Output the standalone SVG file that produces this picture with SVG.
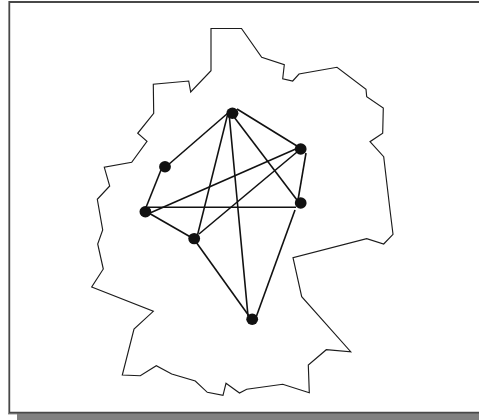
<svg xmlns="http://www.w3.org/2000/svg" width="479" height="420" viewBox="0 0 479 420">
<style>
.o{fill:none;stroke:#1c1c1c;stroke-width:1.15;stroke-linejoin:miter}
.e{stroke:#111;stroke-width:1.6;fill:none}
.n{fill:#111;stroke:none}
</style>
<rect width="479" height="420" fill="#fff"/>
<g id="frame">
<rect x="17" y="413" width="462" height="7" fill="#808080"/>
<rect x="8" y="413" width="9" height="1.5" fill="#999"/>
<path d="M479 2H9.3V412.7H479" fill="none" stroke="#484848" stroke-width="1.8"/>
</g>
<path id="outline" class="o" d="M211 28.5L241.5 28.5L261.7 57.3L284.3 64.7L282.7 78.7L292.7 81L299 74L337 67.3L366 89.3L366.7 96.7L383.3 108L382.7 133.3L370 141.7L383.7 156.7L390 210L393 234.3L383.7 244L366.7 238.7L293 257.7L301.7 296.7L350.7 351.7L326.3 349.7L308.3 365L309.3 392.7L282.7 384.3L246.7 389.3L239.5 393L226 383.3L223 395.3L207.3 392.3L195.3 381L171.7 374L156.3 365.7L140.3 375.7L122.3 375L134 329L153.3 311.3L91.7 287L103.3 269L97.7 244L102.7 230L97.3 199.3L109.7 186L104.3 167.3L131.7 162.3L147 141.3L137.7 133.3L153.7 113.3L153.3 84.3L188.7 81L190.7 92L211 70.7Z"/>
<g id="connectors">
<path class="e" d="M228 113L168 165"/>
<path class="e" d="M161 170L145 210"/>
<path class="e" d="M147 212L194 239"/>
<path class="e" d="M196 242L249 316"/>
<path class="e" d="M256.5 316L295 210"/>
<path class="e" d="M298 200L306 153"/>
<path class="e" d="M237 109L297 146"/>
<path class="e" d="M231 113L297 200"/>
<path class="e" d="M228 113L197 237"/>
<path class="e" d="M229 113L248 316"/>
<path class="e" d="M150 213L298 148"/>
<path class="e" d="M199 234L297 152"/>
<path class="e" d="M148 207.3H296"/>
</g>
<g id="node-a"><ellipse class="n" cx="232.4" cy="113.2" rx="6" ry="5.7"/></g>
<g id="node-b"><ellipse class="n" cx="165" cy="166.8" rx="5.9" ry="5.7"/></g>
<g id="node-c"><ellipse class="n" cx="145.4" cy="211.7" rx="5.9" ry="5.7"/></g>
<g id="node-d"><ellipse class="n" cx="194.2" cy="238.6" rx="5.9" ry="5.7"/></g>
<g id="node-e"><ellipse class="n" cx="252.2" cy="319.2" rx="5.9" ry="5.7"/></g>
<g id="node-f"><ellipse class="n" cx="300.7" cy="149" rx="5.9" ry="5.7"/></g>
<g id="node-g"><ellipse class="n" cx="300.7" cy="203" rx="5.9" ry="5.7"/></g>
</svg>
